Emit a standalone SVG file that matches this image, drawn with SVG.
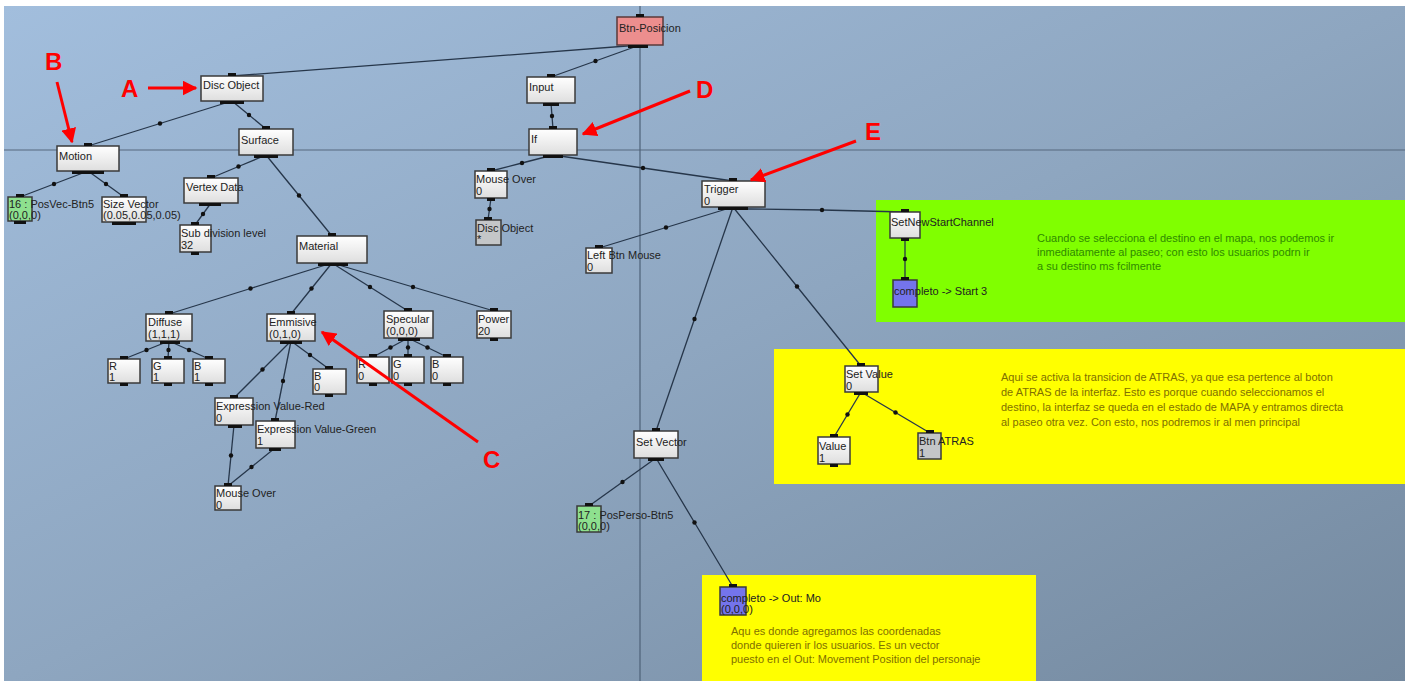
<svg xmlns="http://www.w3.org/2000/svg" width="1416" height="681" viewBox="0 0 1416 681">
<defs>
<linearGradient id="bg" x1="0" y1="0" x2="1" y2="1">
<stop offset="0" stop-color="#a2bedd"/>
<stop offset="0.5" stop-color="#8ea6c0"/>
<stop offset="1" stop-color="#74899f"/>
</linearGradient>
<linearGradient id="ng" x1="0" y1="0" x2="0" y2="1">
<stop offset="0" stop-color="#ffffff"/>
<stop offset="1" stop-color="#dedede"/>
</linearGradient>
<marker id="dot" viewBox="0 0 6 6" refX="3" refY="3" markerWidth="6" markerHeight="6" markerUnits="userSpaceOnUse">
<circle cx="3" cy="3" r="2.2" fill="#111"/>
</marker>
<marker id="ah" viewBox="0 0 10 10" refX="9" refY="5" markerWidth="5" markerHeight="5" orient="auto">
<path d="M0,0 L10,5 L0,10 z" fill="#ff0000"/>
</marker>
<style>
.n{fill:url(#ng);stroke:#3a3a3a;stroke-width:1.5}
.gr{fill:#c4c6c8;stroke:#3a3a3a;stroke-width:1.5}
.gn{fill:#8ee08e;stroke:#3a3a3a;stroke-width:1.5}
.bl{fill:#7474ec;stroke:#3a3a3a;stroke-width:1.5}
.pk{fill:#ec8e8e;stroke:#5a3a3a;stroke-width:1.5}
.t{font-family:"Liberation Sans",Arial,sans-serif;font-size:11px;fill:#222}
.p{fill:#111}
.c{stroke:#26364a;stroke-width:1.3;fill:none;marker-mid:url(#dot)}
.c0{stroke:#26364a;stroke-width:1.3;fill:none}
.note{font-family:"Liberation Sans",Arial,sans-serif;font-size:11px}
.r{font-family:"Liberation Sans",Arial,sans-serif;font-size:24px;font-weight:bold;fill:#ff0000}
.ra{stroke:#ff0000;stroke-width:3;fill:none;marker-end:url(#ah)}
</style>
</defs>
<rect width="1416" height="681" fill="#ffffff"/>
<rect x="4" y="6" width="1401" height="675" fill="url(#bg)"/>
<rect x="876" y="200" width="529" height="122" fill="#80ff00"/>
<rect x="774" y="349" width="631" height="135" fill="#ffff00"/>
<rect x="702" y="575" width="334" height="106" fill="#ffff00"/>
<g id="grid">
<line x1="4" y1="150" x2="1405" y2="150" stroke="#56697e" stroke-width="1.2"/>
<line x1="640" y1="6" x2="640" y2="681" stroke="#4e6278" stroke-width="1.2"/>
</g>
<g id="connectors">
<path class="c0" d="M640,45 L232,76"/>
<path class="c" d="M640,45 L595.5,61 L551,77"/>
<path class="c" d="M551,103 L552,116 L553,129"/>
<path class="c" d="M232,101 L160,123.5 L88,146"/>
<path class="c" d="M232,101 L249,115 L266,129"/>
<path class="c" d="M88,171 L54,184 L20,197"/>
<path class="c" d="M88,171 L106,184 L124,197"/>
<path class="c" d="M266,155 L238.5,166.5 L211,178"/>
<path class="c" d="M266,155 L299,195.5 L332,236"/>
<path class="c" d="M211,203 L203,214 L195,225"/>
<path class="c" d="M332,263 L250.5,288.5 L169,314"/>
<path class="c" d="M332,263 L311.5,288.5 L291,314"/>
<path class="c" d="M332,263 L370,287 L408,311"/>
<path class="c" d="M332,263 L413,287 L494,311"/>
<path class="c" d="M169,341 L146.5,350 L124,359"/>
<path class="c" d="M169,341 L168.5,350 L168,359"/>
<path class="c" d="M169,341 L189,350 L209,359"/>
<path class="c" d="M291,341 L262.5,369.5 L234,398"/>
<path class="c" d="M291,341 L283,381 L275,421"/>
<path class="c" d="M291,341 L310,355 L329,369"/>
<path class="c" d="M408,338 L390.5,347.5 L373,357"/>
<path class="c" d="M408,338 L408,347.5 L408,357"/>
<path class="c" d="M408,338 L427.5,347.5 L447,357"/>
<path class="c" d="M234,425 L231,455.5 L228,486"/>
<path class="c" d="M275,448 L251.5,467 L228,486"/>
<path class="c" d="M553,155 L522,163 L491,171"/>
<path class="c" d="M553,155 L643,168 L733,181"/>
<path class="c" d="M491,198 L489.5,209 L488,220"/>
<path class="c" d="M733,207 L666,227.5 L599,248"/>
<path class="c" d="M733,207 L694.5,319 L656,431"/>
<path class="c" d="M733,207 L797,286.5 L861,366"/>
<path class="c" d="M748,209 L822,210 L905,212"/>
<path class="c" d="M905,238 L905,259 L905,280"/>
<path class="c" d="M861,392 L847.5,414.5 L834,437"/>
<path class="c" d="M861,392 L895.5,412.5 L930,433"/>
<path class="c" d="M656,458 L622.5,482 L589,506"/>
<path class="c" d="M656,458 L694.5,522.5 L733,587"/>
</g>
<g id="btn-posicion"><rect class="pk" x="617" y="17" width="46" height="28"/><rect class="p" x="636" y="14" width="8" height="3"/><rect class="p" x="628" y="45" width="20" height="3"/><text class="t" x="619" y="32">Btn-Posicion</text></g>
<g id="disc-object"><rect class="n" x="201" y="76" width="62" height="25"/><rect class="p" x="228" y="73" width="8" height="3"/><rect class="p" x="220" y="101" width="24" height="3"/><text class="t" x="203" y="89">Disc Object</text></g>
<g id="motion"><rect class="n" x="57" y="146" width="62" height="25"/><rect class="p" x="84" y="143" width="8" height="3"/><rect class="p" x="72" y="171" width="32" height="3"/><text class="t" x="59" y="160">Motion</text></g>
<g id="posvec"><rect class="gn" x="8" y="197" width="24" height="24"/><rect class="p" x="16" y="194" width="8" height="3"/><rect class="p" x="14" y="221" width="12" height="3"/><text class="t" x="9" y="208">16 : PosVec-Btn5</text><text class="t" x="9" y="219">(0,0,0)</text></g>
<g id="size-vector"><rect class="n" x="102" y="197" width="44" height="25"/><rect class="p" x="120" y="194" width="8" height="3"/><rect class="p" x="112" y="222" width="24" height="3"/><text class="t" x="103" y="208">Size Vector</text><text class="t" x="103" y="219">(0.05,0.05,0.05)</text></g>
<g id="surface"><rect class="n" x="239" y="129" width="54" height="26"/><rect class="p" x="262" y="126" width="8" height="3"/><rect class="p" x="254" y="155" width="24" height="3"/><text class="t" x="241" y="144">Surface</text></g>
<g id="vertex-data"><rect class="n" x="184" y="178" width="54" height="25"/><rect class="p" x="207" y="175" width="8" height="3"/><rect class="p" x="199" y="203" width="22" height="3"/><text class="t" x="186" y="191">Vertex Data</text></g>
<g id="subdivision"><rect class="n" x="180" y="225" width="31" height="27"/><rect class="p" x="191" y="222" width="8" height="3"/><rect class="p" x="191" y="252" width="8" height="3"/><text class="t" x="181" y="237">Sub division level</text><text class="t" x="181" y="249">32</text></g>
<g id="material"><rect class="n" x="297" y="236" width="70" height="27"/><rect class="p" x="328" y="233" width="8" height="3"/><rect class="p" x="318" y="263" width="30" height="3"/><text class="t" x="299" y="250">Material</text></g>
<g id="diffuse"><rect class="n" x="146" y="314" width="46" height="27"/><rect class="p" x="165" y="311" width="8" height="3"/><rect class="p" x="160" y="341" width="20" height="3"/><text class="t" x="148" y="326">Diffuse</text><text class="t" x="148" y="338">(1,1,1)</text></g>
<g id="diffuse-r"><rect class="n" x="108" y="359" width="32" height="24"/><rect class="p" x="120" y="356" width="8" height="3"/><rect class="p" x="120" y="383" width="8" height="3"/><text class="t" x="109" y="370">R</text><text class="t" x="109" y="381">1</text></g>
<g id="diffuse-g"><rect class="n" x="152" y="359" width="32" height="24"/><rect class="p" x="164" y="356" width="8" height="3"/><rect class="p" x="164" y="383" width="8" height="3"/><text class="t" x="153" y="370">G</text><text class="t" x="153" y="381">1</text></g>
<g id="diffuse-b"><rect class="n" x="193" y="359" width="32" height="24"/><rect class="p" x="205" y="356" width="8" height="3"/><rect class="p" x="205" y="383" width="8" height="3"/><text class="t" x="194" y="370">B</text><text class="t" x="194" y="381">1</text></g>
<g id="emmisive"><rect class="n" x="267" y="314" width="48" height="27"/><rect class="p" x="287" y="311" width="8" height="3"/><rect class="p" x="280" y="341" width="22" height="3"/><text class="t" x="269" y="326">Emmisive</text><text class="t" x="269" y="338">(0,1,0)</text></g>
<g id="emmisive-b"><rect class="n" x="313" y="369" width="33" height="25"/><rect class="p" x="325" y="366" width="8" height="3"/><rect class="p" x="325" y="394" width="8" height="3"/><text class="t" x="314" y="380">B</text><text class="t" x="314" y="391">0</text></g>
<g id="specular"><rect class="n" x="384" y="311" width="49" height="27"/><rect class="p" x="404" y="308" width="8" height="3"/><rect class="p" x="398" y="338" width="22" height="3"/><text class="t" x="386" y="323">Specular</text><text class="t" x="386" y="335">(0,0,0)</text></g>
<g id="specular-r"><rect class="n" x="357" y="357" width="32" height="26"/><rect class="p" x="369" y="354" width="8" height="3"/><rect class="p" x="369" y="383" width="8" height="3"/><text class="t" x="358" y="368">R</text><text class="t" x="358" y="380">0</text></g>
<g id="specular-g"><rect class="n" x="392" y="357" width="32" height="26"/><rect class="p" x="404" y="354" width="8" height="3"/><rect class="p" x="404" y="383" width="8" height="3"/><text class="t" x="393" y="368">G</text><text class="t" x="393" y="380">0</text></g>
<g id="specular-b"><rect class="n" x="431" y="357" width="32" height="26"/><rect class="p" x="443" y="354" width="8" height="3"/><rect class="p" x="443" y="383" width="8" height="3"/><text class="t" x="432" y="368">B</text><text class="t" x="432" y="380">0</text></g>
<g id="power"><rect class="n" x="477" y="311" width="34" height="27"/><rect class="p" x="490" y="308" width="8" height="3"/><rect class="p" x="490" y="338" width="8" height="3"/><text class="t" x="478" y="323">Power</text><text class="t" x="478" y="335">20</text></g>
<g id="expr-red"><rect class="n" x="215" y="398" width="38" height="27"/><rect class="p" x="230" y="395" width="8" height="3"/><rect class="p" x="228" y="425" width="14" height="3"/><text class="t" x="216" y="410">Expression Value-Red</text><text class="t" x="216" y="422">0</text></g>
<g id="expr-green"><rect class="n" x="256" y="421" width="39" height="27"/><rect class="p" x="271" y="418" width="8" height="3"/><rect class="p" x="269" y="448" width="12" height="3"/><text class="t" x="257" y="433">Expression Value-Green</text><text class="t" x="257" y="445">1</text></g>
<g id="mouse-over-1"><rect class="n" x="215" y="486" width="26" height="24"/><rect class="p" x="224" y="483" width="8" height="3"/><text class="t" x="216" y="497">Mouse Over</text><text class="t" x="216" y="508.5">0</text></g>
<g id="input"><rect class="n" x="527" y="77" width="48" height="26"/><rect class="p" x="547" y="74" width="8" height="3"/><rect class="p" x="543" y="103" width="16" height="3"/><text class="t" x="529" y="91">Input</text></g>
<g id="if"><rect class="n" x="529" y="129" width="48" height="26"/><rect class="p" x="549" y="126" width="8" height="3"/><rect class="p" x="543" y="155" width="20" height="3"/><text class="t" x="531" y="143">If</text></g>
<g id="mouse-over-2"><rect class="n" x="475" y="171" width="32" height="27"/><rect class="p" x="487" y="168" width="8" height="3"/><rect class="p" x="487" y="198" width="8" height="3"/><text class="t" x="476" y="183">Mouse Over</text><text class="t" x="476" y="195">0</text></g>
<g id="disc-object-2"><rect class="gr" x="476" y="220" width="25" height="25"/><rect class="p" x="484" y="217" width="8" height="3"/><text class="t" x="477" y="232">Disc Object</text><text class="t" x="477" y="243">*</text></g>
<g id="left-btn-mouse"><rect class="n" x="586" y="248" width="26" height="25"/><rect class="p" x="595" y="245" width="8" height="3"/><text class="t" x="587" y="259">Left Btn Mouse</text><text class="t" x="587" y="271">0</text></g>
<g id="trigger"><rect class="n" x="702" y="181" width="63" height="26"/><rect class="p" x="729" y="178" width="8" height="3"/><rect class="p" x="718" y="207" width="30" height="3"/><text class="t" x="704" y="193">Trigger</text><text class="t" x="704" y="205">0</text></g>
<g id="setnewstartchannel"><rect class="n" x="890" y="212" width="30" height="26"/><rect class="p" x="901" y="209" width="8" height="3"/><rect class="p" x="901" y="238" width="8" height="3"/><text class="t" x="891" y="226">SetNewStartChannel</text></g>
<g id="completo-start"><rect class="bl" x="893" y="280" width="24" height="27"/><rect class="p" x="901" y="277" width="8" height="3"/><text class="t" x="894" y="295">completo -&gt; Start 3</text></g>
<g id="note-green"><text class="note" fill="#2f8a00" x="1037" y="242">Cuando se selecciona el destino en el mapa, nos podemos ir</text><text class="note" fill="#2f8a00" x="1037" y="256">inmediatamente al paseo; con esto los usuarios podrn ir</text><text class="note" fill="#2f8a00" x="1037" y="270">a su destino ms fcilmente</text></g>
<g id="set-value"><rect class="n" x="845" y="366" width="33" height="26"/><rect class="p" x="857" y="363" width="8" height="3"/><rect class="p" x="854" y="392" width="14" height="3"/><text class="t" x="846" y="378">Set Value</text><text class="t" x="846" y="390">0</text></g>
<g id="value"><rect class="n" x="818" y="437" width="32" height="27"/><rect class="p" x="830" y="434" width="8" height="3"/><rect class="p" x="830" y="464" width="8" height="3"/><text class="t" x="819" y="450">Value</text><text class="t" x="819" y="462">1</text></g>
<g id="btn-atras"><rect class="gr" x="918" y="433" width="23" height="26"/><rect class="p" x="926" y="430" width="8" height="3"/><text class="t" x="919" y="445">Btn ATRAS</text><text class="t" x="919" y="457">1</text></g>
<g id="note-yellow-1"><text class="note" fill="#7f7000" x="1001" y="381">Aqui se activa la transicion de ATRAS, ya que esa pertence al boton</text><text class="note" fill="#7f7000" x="1001" y="396">de ATRAS de la interfaz. Esto es porque cuando seleccionamos el</text><text class="note" fill="#7f7000" x="1001" y="411">destino, la interfaz se queda en el estado de MAPA y entramos directa</text><text class="note" fill="#7f7000" x="1001" y="426">al paseo otra vez. Con esto, nos podremos ir al men principal</text></g>
<g id="set-vector"><rect class="n" x="634" y="431" width="44" height="27"/><rect class="p" x="652" y="428" width="8" height="3"/><rect class="p" x="648" y="458" width="16" height="3"/><text class="t" x="636" y="446">Set Vector</text></g>
<g id="posperso"><rect class="gn" x="577" y="506" width="24" height="26"/><rect class="p" x="585" y="503" width="8" height="3"/><text class="t" x="578" y="519">17 : PosPerso-Btn5</text><text class="t" x="578" y="530">(0,0,0)</text></g>
<g id="completo-out"><rect class="bl" x="720" y="587" width="26" height="28"/><rect class="p" x="729" y="584" width="8" height="3"/><text class="t" x="721" y="602">completo -&gt; Out: Mo</text><text class="t" x="721" y="613">(0,0,0)</text></g>
<g id="note-yellow-2"><text class="note" fill="#7f7000" x="731" y="635">Aqu es donde agregamos las coordenadas</text><text class="note" fill="#7f7000" x="731" y="649">donde quieren ir los usuarios. Es un vector</text><text class="note" fill="#7f7000" x="731" y="663">puesto en el Out: Movement Position del personaje</text></g>
<g id="annotations">
<text class="r" x="121" y="97">A</text>
<path class="ra" d="M148,88 L196,88"/>
<text class="r" x="45" y="70">B</text>
<path class="ra" d="M57,82 L72,142"/>
<text class="r" x="483" y="468">C</text>
<path class="ra" d="M478,442 L322,332"/>
<text class="r" x="696" y="98">D</text>
<path class="ra" d="M690,91 L583,134"/>
<text class="r" x="865" y="140">E</text>
<path class="ra" d="M856,141 L751,180"/>
</g>
</svg>
